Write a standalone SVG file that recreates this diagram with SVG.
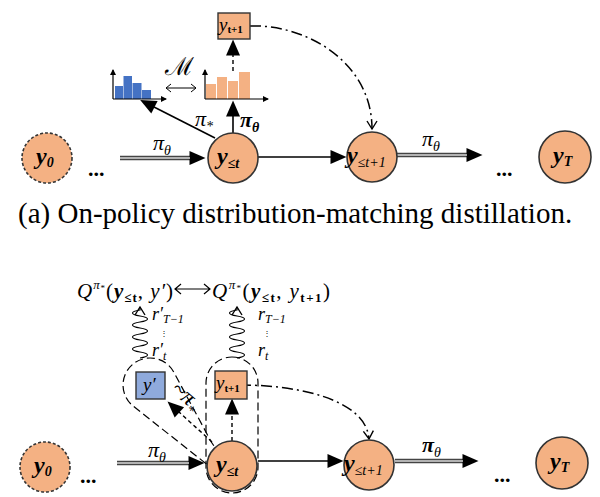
<svg xmlns="http://www.w3.org/2000/svg" width="600" height="497" viewBox="0 0 600 497">
<style>
  .node { fill: #F4B183; stroke: #333; stroke-width: 1.6; }
  .dashnode { fill: #F4B183; stroke: #333; stroke-width: 1.6; stroke-dasharray: 3 2; }
  .lbl { font-family: "Liberation Serif", "DejaVu Serif", serif; fill: #000; }
  .ny { font-size: 24px; font-weight: bold; font-style: italic; }
  .sub { font-size: 14px; }
  .pi { font-size: 22px; font-style: italic; }
  .dblo { stroke: #444; stroke-width: 4.5; fill: none; }
  .dbli { stroke: #d8d8d8; stroke-width: 1.4; fill: none; }
  .solid { stroke: #000; stroke-width: 1.6; fill: none; }
  .dash { stroke: #000; stroke-width: 1.4; fill: none; stroke-dasharray: 4 3; }
  .dashdot { stroke: #000; stroke-width: 1.5; fill: none; stroke-dasharray: 11 4 2 4; }
  .caps { stroke: #000; stroke-width: 1.2; fill: none; stroke-dasharray: 8 4; }
  .wave { stroke: #000; stroke-width: 1.2; fill: none; }
  .axis { stroke: #000; stroke-width: 1.2; fill: none; }
  .cap { font-family: "Liberation Serif", serif; font-size: 29px; fill: #000; }
</style>
<defs>
  <marker id="tri" markerUnits="userSpaceOnUse" markerWidth="16" markerHeight="14" refX="0.5" refY="7" orient="auto" overflow="visible">
    <path d="M0,0 L16,7 L0,14 z" fill="#000"/>
  </marker>
  <marker id="open" markerUnits="userSpaceOnUse" markerWidth="10" markerHeight="10" refX="8" refY="5" orient="auto" overflow="visible">
    <path d="M0,0 L8,5 L0,10" fill="none" stroke="#000" stroke-width="1.4"/>
  </marker>
  <marker id="ax" markerUnits="userSpaceOnUse" markerWidth="6" markerHeight="6" refX="5" refY="3" orient="auto" overflow="visible">
    <path d="M0,0 L6,3 L0,6 z" fill="#000"/>
  </marker>
</defs>

<!-- ===== Panel (a) ===== -->
<g id="connectors-a">
  <line class="dblo" x1="120" y1="158" x2="190" y2="158" marker-end="url(#tri)"/>
  <line class="dbli" x1="120" y1="158" x2="190" y2="158"/>
  <line class="solid" x1="258" y1="157" x2="331" y2="157" marker-end="url(#tri)"/>
  <line class="dblo" x1="397" y1="155" x2="467" y2="155" marker-end="url(#tri)"/>
  <line class="dbli" x1="397" y1="155" x2="467" y2="155"/>
  <line class="solid" x1="215" y1="138" x2="154" y2="107" marker-end="url(#tri)"/>
  <line class="solid" x1="233" y1="133" x2="233" y2="116" marker-end="url(#tri)"/>
  <line class="dash" x1="233" y1="71" x2="233" y2="55" marker-end="url(#tri)"/>
  <path class="dashdot" d="M250,26 C306,24 372,62 372,129" marker-end="url(#open)"/>
  <text class="lbl pi" x="153" y="150">π<tspan class="sub" dy="5">θ</tspan></text>
  <text class="lbl pi" x="422" y="146">π<tspan class="sub" dy="5">θ</tspan></text>
  <text class="lbl pi" x="195" y="126">π<tspan class="sub" dy="5">*</tspan></text>
  <text class="lbl pi" x="240" y="127" font-weight="bold">π<tspan class="sub" dy="5">θ</tspan></text>
</g>

<g id="hist-blue">
  <rect x="115" y="86" width="8" height="13" fill="#4472C4"/>
  <rect x="123.5" y="76" width="8.5" height="23" fill="#4472C4"/>
  <rect x="132.5" y="83" width="9" height="16" fill="#4472C4"/>
  <rect x="142" y="90" width="9" height="9" fill="#4472C4"/>
  <line class="axis" x1="113" y1="99" x2="113" y2="70" marker-end="url(#ax)"/>
  <line class="axis" x1="113" y1="99" x2="166" y2="99" marker-end="url(#ax)"/>
</g>
<g id="hist-orange">
  <rect x="206" y="84" width="10" height="15" fill="#F4B183"/>
  <rect x="217" y="77" width="10" height="22" fill="#F4B183"/>
  <rect x="228" y="81" width="10" height="18" fill="#F4B183"/>
  <rect x="239" y="72" width="11" height="27" fill="#F4B183"/>
  <line class="axis" x1="205" y1="99" x2="205" y2="70" marker-end="url(#ax)"/>
  <line class="axis" x1="205" y1="99" x2="268" y2="99" marker-end="url(#ax)"/>
</g>
<g id="match-M">
  <text class="lbl" x="165" y="75" font-size="25" font-family="DejaVu Serif, DejaVu Sans, serif">ℳ</text>
  <path d="M166,88 L196,88 M171,84 L166,88 L171,92 M191,84 L196,88 L191,92" stroke="#000" stroke-width="1" fill="none"/>
</g>

<g id="a-ybox">
  <rect x="218" y="13" width="32" height="26" fill="#F4B183" stroke="#333" stroke-width="1.4"/>
  <text class="lbl" x="219" y="31" font-size="19" font-style="italic">y<tspan font-size="11" font-weight="bold" font-style="normal" dy="2">t+1</tspan></text>
</g>

<g id="a-y0">
  <circle class="dashnode" cx="47" cy="158" r="25"/>
  <text class="lbl ny" x="36" y="164">y<tspan class="sub" dy="3">0</tspan></text>
</g>
<text class="lbl" x="88" y="176" font-size="22" font-weight="bold">...</text>
<g id="a-yle-t">
  <circle class="node" cx="233" cy="158" r="25"/>
  <text class="lbl ny" x="217" y="164">y<tspan class="sub" dy="4">≤t</tspan></text>
</g>
<g id="a-yle-t1">
  <circle class="node" cx="372" cy="157" r="25"/>
  <text class="lbl ny" x="347" y="163">y<tspan class="sub" font-weight="normal" dy="4">≤t+1</tspan></text>
</g>
<text class="lbl" x="496" y="176" font-size="22" font-weight="bold">...</text>
<g id="a-yT">
  <circle class="node" cx="565" cy="157" r="26"/>
  <text class="lbl ny" x="553" y="163">y<tspan class="sub" dy="3">T</tspan></text>
</g>

<text class="cap" x="18" y="223">(a) On-policy distribution-matching distillation.</text>

<!-- ===== Panel (b) ===== -->
<g id="capsules">
  <path class="caps" d="M206,463.6 L133.3,406.2 A27,27 0 1 1 173.8,372.2 L211.3,442 L222,458 Z"/>
  <rect class="caps" x="206" y="357" width="52" height="136" rx="26"/>
</g>

<g id="connectors-b">
  <line class="dblo" x1="117" y1="463" x2="189" y2="463" marker-end="url(#tri)"/>
  <line class="dbli" x1="117" y1="463" x2="189" y2="463"/>
  <line class="solid" x1="258" y1="461" x2="328" y2="461" marker-end="url(#tri)"/>
  <line class="dblo" x1="395" y1="461" x2="463" y2="461" marker-end="url(#tri)"/>
  <line class="dbli" x1="395" y1="461" x2="463" y2="461"/>
  <line class="dash" x1="232" y1="441" x2="232" y2="414" marker-end="url(#tri)"/>
  <line class="dash" x1="212" y1="442" x2="179" y2="412" marker-end="url(#tri)"/>
  <path class="dashdot" d="M240,385 C300,385 366,400 369,439" marker-end="url(#open)"/>
  <path class="wave" d="M140,358 c10,-1.5 10,-4.5 0,-6 c-10,-1.5 -10,-4.5 0,-6 c10,-1.5 10,-4.5 0,-6 c-10,-1.5 -10,-4.5 0,-6 c10,-1.5 10,-4.5 0,-6 c-10,-1.5 -10,-4.5 0,-6 c10,-1.5 10,-4.5 0,-6 c-10,-1.5 -10,-4.5 0,-6 l0,-3" marker-end="url(#open)"/>
  <path class="wave" d="M237,358 c10,-1.5 10,-4.5 0,-6 c-10,-1.5 -10,-4.5 0,-6 c10,-1.5 10,-4.5 0,-6 c-10,-1.5 -10,-4.5 0,-6 c10,-1.5 10,-4.5 0,-6 c-10,-1.5 -10,-4.5 0,-6 c10,-1.5 10,-4.5 0,-6 c-10,-1.5 -10,-4.5 0,-6 l0,-3" marker-end="url(#open)"/>
  <text class="lbl pi" x="148" y="457">π<tspan class="sub" dy="5">θ</tspan></text>
  <text class="lbl pi" x="422" y="452" font-weight="bold">π<tspan class="sub" font-weight="normal" dy="5">θ</tspan></text>
  <text class="lbl" transform="translate(170,391) rotate(40)" font-size="23" font-style="italic">~π<tspan font-size="14" dy="6">*</tspan></text>
</g>

<g id="rewards">
  <text class="lbl" x="152" y="320" font-size="18" font-style="italic">r′<tspan font-size="12" dy="3">T−1</tspan></text>
  <text class="lbl" x="160" y="336" font-size="8">⋮</text>
  <text class="lbl" x="152" y="356" font-size="18" font-style="italic">r′<tspan font-size="12" dy="4">t</tspan></text>
  <text class="lbl" x="258" y="320" font-size="18" font-style="italic">r<tspan font-size="12" dy="3">T−1</tspan></text>
  <text class="lbl" x="263" y="336" font-size="8">⋮</text>
  <text class="lbl" x="258" y="356" font-size="18" font-style="italic">r<tspan font-size="12" dy="4">t</tspan></text>
</g>

<g id="q-values">
  <text class="lbl" x="77" y="298" font-size="21" textLength="96" lengthAdjust="spacing"><tspan font-style="italic">Q</tspan><tspan font-size="13" font-style="italic" dy="-9">π</tspan><tspan font-size="9" dy="2">*</tspan><tspan dy="7">(</tspan><tspan font-weight="bold" font-style="italic">y</tspan><tspan font-size="13" font-weight="bold" dy="4">≤t</tspan><tspan dy="-4">, </tspan><tspan font-style="italic">y′</tspan>)</text>
  <path d="M175,289 L210,289 M181,284 L175,289 L181,294 M204,284 L210,289 L204,294" stroke="#000" stroke-width="1.2" fill="none"/>
  <text class="lbl" x="212" y="298" font-size="21" textLength="118" lengthAdjust="spacing"><tspan font-style="italic">Q</tspan><tspan font-size="13" font-style="italic" dy="-9">π</tspan><tspan font-size="9" dy="2">*</tspan><tspan dy="7">(</tspan><tspan font-weight="bold" font-style="italic">y</tspan><tspan font-size="13" font-weight="bold" dy="4">≤t</tspan><tspan dy="-4">, </tspan><tspan font-style="italic">y</tspan><tspan font-size="13" font-weight="bold" dy="4">t+1</tspan><tspan dy="-4">)</tspan></text>
</g>

<g id="b-yprime">
  <rect x="136" y="372" width="29" height="27" fill="#8FAADC" stroke="#333" stroke-width="1.4"/>
  <text class="lbl" x="143" y="391" font-size="19" font-style="italic">y′</text>
</g>
<g id="b-ybox">
  <rect x="215" y="371" width="32" height="28" fill="#F4B183" stroke="#333" stroke-width="1.4"/>
  <text class="lbl" x="216" y="389" font-size="19" font-style="italic">y<tspan font-size="11" font-weight="bold" font-style="normal" dy="3">t+1</tspan></text>
</g>

<g id="b-y0">
  <circle class="dashnode" cx="45" cy="467" r="25"/>
  <text class="lbl ny" x="34" y="473">y<tspan class="sub" dy="3">0</tspan></text>
</g>
<text class="lbl" x="80" y="483" font-size="22" font-weight="bold">...</text>
<g id="b-yle-t">
  <circle class="node" cx="232" cy="466" r="25"/>
  <text class="lbl ny" x="216" y="472">y<tspan class="sub" dy="4">≤t</tspan></text>
</g>
<g id="b-yle-t1">
  <circle class="node" cx="369" cy="465" r="25"/>
  <text class="lbl ny" x="344" y="471">y<tspan class="sub" font-weight="normal" dy="4">≤t+1</tspan></text>
</g>
<text class="lbl" x="494" y="482" font-size="22" font-weight="bold">...</text>
<g id="b-yT">
  <circle class="node" cx="562" cy="463" r="26"/>
  <text class="lbl ny" x="550" y="469">y<tspan class="sub" dy="3">T</tspan></text>
</g>
</svg>
